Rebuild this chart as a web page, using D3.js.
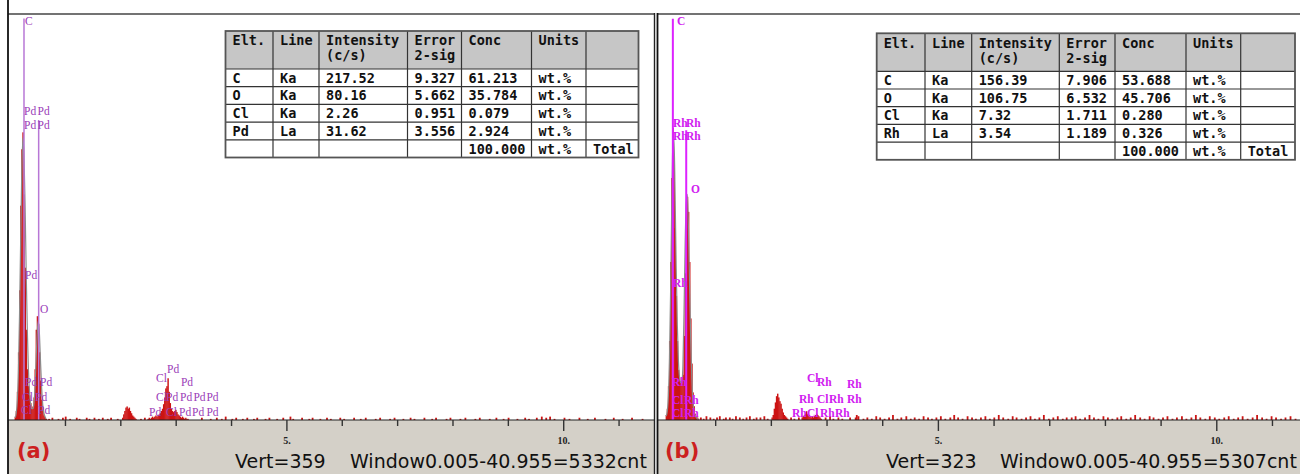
<!DOCTYPE html>
<html>
<head>
<meta charset="utf-8">
<script src="https://cdn.jsdelivr.net/npm/d3@7"></script>
<style>
  html, body { margin: 0; padding: 0; background: #fff; }
  svg { display: block; }
</style>
</head>
<body>
<svg id="chart" width="1300" height="474"></svg>
<script>
// ---------------- Quantification tables ----------------
const tableHeader = [["Elt."], ["Line"], ["Intensity", "(c/s)"], ["Error", "2-sig"], ["Conc"], ["Units"], [""]];
const tableRowsA = [
  ["C",  "Ka", "217.52", "9.327", "61.213", "wt.%", ""],
  ["O",  "Ka", "80.16",  "5.662", "35.784", "wt.%", ""],
  ["Cl", "Ka", "2.26",   "0.951", "0.079",  "wt.%", ""],
  ["Pd", "La", "31.62",  "3.556", "2.924",  "wt.%", ""],
  ["",   "",   "",       "",      "100.000","wt.%", "Total"]
];
const tableRowsB = [
  ["C",  "Ka", "156.39", "7.906", "53.688", "wt.%", ""],
  ["O",  "Ka", "106.75", "6.532", "45.706", "wt.%", ""],
  ["Cl", "Ka", "7.32",   "1.711", "0.280",  "wt.%", ""],
  ["Rh", "La", "3.54",   "1.189", "0.326",  "wt.%", ""],
  ["",   "",   "",       "",      "100.000","wt.%", "Total"]
];

// ---------------- Spectrum (a): Pd sample ----------------
// counts per 0.02 keV channel
const lowStartA = 0.10;
const lowCountsA = [3,8,25,60,115,190,240,255,200,135,80,45,30,22,15,10,12,20,45,80,92,85,60,35,18,8,4,2,1];
const lowFitA    = [2,6,18,45,95,160,220,250,235,190,130,80,45,25,14,10,10,15,30,55,78,88,75,50,28,13,6,3,1];
const bumpStartA = 2.04;
const bumpCountsA = [2,5,8,11,12,10,11,8,6,4,3,2,1];
const clusterStartA = 2.50;
const clusterCountsA = [1,2,1,2,3,2,3,4,3,4,5,6,8,10,14,20,28,30,37,25,15,10,8,7,8,9,7,5,4,3,2,3,2,1,2,1,1];
const noiseA = [
  [0.71,1],[0.77,2],[0.88,1],[0.96,2],[1.01,3],[1.09,1],[1.21,2],[1.26,1],[1.39,2],[1.44,1],
  [1.53,2],[1.61,1],[1.68,2],[1.77,1],[1.83,2],[1.95,1],[2.37,1],[2.44,2],[3.47,2],[3.63,1],
  [3.74,2],[3.83,1],[3.90,3],[4.02,1],[4.09,2],[4.21,1],[4.29,2],[4.41,1],[4.47,2],[4.62,1],
  [4.69,2],[4.83,1],[4.94,2],[5.07,3],[5.12,1],[5.28,2],[5.41,1],[5.47,2],[5.61,1],[5.73,2],
  [5.80,1],[5.97,2],[6.04,1],[6.22,2],[6.34,1],[6.43,2],[6.61,1],[6.69,2],[6.87,1],[6.95,2],
  [7.11,1],[7.24,2],[7.31,1],[7.49,2],[7.63,1],[7.70,2],[7.89,1],[7.96,2],[8.14,1],[8.23,2],
  [8.41,1],[8.49,2],[8.67,1],[8.79,2],[8.92,1],[9.01,2],[9.17,1],[9.31,2],[9.38,1],[9.52,2],
  [9.61,3],[9.69,2],[9.76,3],[9.84,1],[10.02,2],[10.11,1],[10.29,2],[10.44,1],[10.57,2],[10.76,1],
  [10.91,2],[11.07,1],[11.24,2],[11.43,1]
];
const markersA = [[0.26, 356], [0.525, 266]];
const labelsA = [
  ["C", 0.278, 350],
  ["Pd", 0.26, 270], ["Pd", 0.504, 270],
  ["Pd", 0.26, 258], ["Pd", 0.504, 258],
  ["Pd", 0.278, 125],
  ["O", 0.549, 95],
  ["Pd", 0.278, 30], ["Pd", 0.549, 30],
  ["Cl", 0.224, 17], ["Pd", 0.459, 17],
  ["Cl", 0.206, 5], ["Pd", 0.513, 5],
  ["Pd", 2.843, 42],
  ["Cl", 2.644, 34],
  ["Pd", 3.095, 30],
  ["Cl", 2.644, 17], ["Pd", 2.825, 17], ["Pd", 3.078, 17], ["Pd", 3.321, 17], ["Pd", 3.556, 17],
  ["Pd", 2.518, 3.5], ["Cl", 2.825, 3.5], ["Pd", 3.06, 3.5], ["Pd", 3.297, 3.5], ["Pd", 3.556, 3.5]
];
const footerA = ["(a)", "Vert=359", "Window0.005-40.955=5332cnt"];
const vertA = 359;

// ---------------- Spectrum (b): Rh sample ----------------
const lowStartB = 0.12;
const lowCountsB = [4,9,27,63,126,193,233,211,153,99,63,40,34,31,29,36,67,117,162,178,166,126,81,45,22,11,5,3,2,1];
const lowFitB    = [3,7,20,50,104,171,220,225,180,121,76,47,34,30,30,43,85,139,173,180,153,108,65,34,16,7,4,2,1,0];
const bumpStartB = 2.02;
const bumpCountsB = [2,4,9,14,19,21,18,15,13,9,6,4,3,2,1];
const clusterStartB = 2.56;
const clusterCountsB = [2,3,4,5,7,5,4,3,2,3,2,3,4,5,4,3,2,1];
const noiseB = [
  [0.74,2],[0.79,1],[0.84,3],[0.91,2],[0.97,1],[1.03,2],[1.08,3],[1.15,1],[1.19,2],[1.26,2],
  [1.31,1],[1.37,3],[1.44,2],[1.50,1],[1.56,2],[1.62,3],[1.69,1],[1.74,2],[1.81,2],[1.88,3],
  [1.94,1],[2.36,2],[2.42,1],[2.50,2],[2.98,2],[3.06,3],[3.12,1],[3.21,2],[3.28,1],[3.42,2],
  [3.52,2],[3.54,4],[3.57,3],[3.66,1],[3.73,2],[3.81,1],[3.89,3],[3.96,2],[4.04,1],[4.12,2],
  [4.19,4],[4.27,1],[4.34,2],[4.43,3],[4.51,1],[4.58,2],[4.66,1],[4.74,3],[4.82,2],[4.89,1],
  [4.97,2],[5.05,3],[5.13,1],[5.22,2],[5.29,4],[5.36,2],[5.44,1],[5.53,3],[5.61,2],[5.68,1],
  [5.77,2],[5.85,3],[5.93,1],[6.01,2],[6.09,4],[6.17,2],[6.26,1],[6.34,3],[6.41,2],[6.50,1],
  [6.58,2],[6.66,3],[6.74,1],[6.82,2],[6.90,4],[6.99,1],[7.07,2],[7.15,3],[7.24,1],[7.31,2],
  [7.40,2],[7.47,3],[7.55,1],[7.64,2],[7.72,4],[7.80,2],[7.88,1],[7.97,3],[8.05,2],[8.13,1],
  [8.22,2],[8.29,3],[8.38,1],[8.46,2],[8.54,4],[8.63,2],[8.71,1],[8.80,3],[8.87,2],[8.96,1],
  [9.04,2],[9.12,3],[9.21,1],[9.29,2],[9.38,3],[9.46,1],[9.55,2],[9.63,4],[9.71,2],[9.80,1],
  [9.88,3],[9.97,2],[10.05,1],[10.14,2],[10.22,3],[10.31,1],[10.39,2],[10.47,3],[10.56,1],[10.65,2],
  [10.73,4],[10.82,2],[10.90,1],[10.99,3],[11.07,2],[11.16,1],[11.24,2],[11.33,3],[11.42,1]
];
const markersB = [[0.24, 320], [0.48, 231]];
const labelsB = [
  ["C", 0.314, 315],
  ["Rh", 0.242, 234], ["Rh", 0.476, 234],
  ["Rh", 0.242, 223], ["Rh", 0.476, 223],
  ["O", 0.566, 181],
  ["Rh", 0.242, 106],
  ["Rh", 0.224, 27.5],
  ["Cl", 0.224, 13], ["Rh", 0.44, 13],
  ["Cl", 0.224, 2.7], ["Rh", 0.44, 2.7],
  ["Cl", 2.649, 30.6], ["Rh", 2.829, 27], ["Rh", 3.367, 25.2],
  ["Rh", 2.505, 13.5], ["Cl", 2.829, 13.5], ["Rh", 3.044, 13.5], ["Rh", 3.367, 13.5],
  ["Rh", 2.38, 2], ["Cl", 2.649, 2], ["Rh", 2.883, 2], ["Rh", 3.153, 2]
];
const footerB = ["(b)", "Vert=323", "Window0.005-40.955=5307cnt"];
const vertB = 323;

const tickValuesKeV = [1, 2, 3, 4, 5, 6, 7, 8, 9, 10, 11];

// ---------------- drawing ----------------
const svg = d3.select("#chart");
const BASE = 420, TOP = 15, H = 474;
const STEP = 0.02;

function runs(list) {
  const out = [];
  list.forEach(([start, counts]) => counts.forEach((c, i) => out.push({ e: start + i * STEP, c, w: STEP })));
  return out;
}

function drawPanel(cfg) {
  const g = svg.append("g");
  const x = d3.scaleLinear().domain([0, cfg.maxE]).range([cfg.x0, cfg.x1]);
  const y = d3.scaleLinear().domain([0, cfg.vert]).range([BASE, TOP]);

  // status strip under the spectrum
  g.append("rect").attr("x", cfg.left).attr("y", BASE).attr("width", cfg.right - cfg.left)
    .attr("height", H - BASE).attr("fill", "#d4d0c8");

  // measured counts
  const chans = runs(cfg.runs).concat(cfg.noise.map(([e, c]) => ({ e, c, w: 0.026 })));
  g.append("g").selectAll("rect").data(chans).join("rect")
    .attr("x", d => x(d.e - d.w / 2))
    .attr("width", d => x(d.e + d.w / 2) - x(d.e - d.w / 2) + 0.35)
    .attr("y", d => y(d.c))
    .attr("height", d => BASE - y(d.c))
    .attr("fill", "#cc1414");

  // fitted profile
  const fit = cfg.fit[1].map((c, i) => ({ e: cfg.fit[0] + i * STEP, c }));
  g.append("path").datum(fit)
    .attr("d", d3.line().x(d => x(d.e)).y(d => y(d.c)).curve(d3.curveMonotoneX))
    .attr("fill", "none").attr("stroke", "#8c8c8c").attr("stroke-width", 1.2);

  // element line markers
  g.append("g").selectAll("line").data(cfg.markers).join("line")
    .attr("x1", d => x(d[0])).attr("x2", d => x(d[0]))
    .attr("y1", d => y(d[1])).attr("y2", BASE)
    .attr("stroke", cfg.markerColor).attr("stroke-width", cfg.markerWidth);

  // element labels
  g.append("g").selectAll("text").data(cfg.labels).join("text")
    .attr("x", d => x(d[1])).attr("y", d => y(d[2]))
    .attr("fill", cfg.labelColor)
    .attr("font-family", "'Liberation Serif', serif")
    .attr("font-size", 11.5)
    .attr("font-weight", cfg.labelWeight)
    .text(d => d[0]);

  // energy axis
  const axis = d3.axisBottom(x).tickValues(tickValuesKeV).tickSize(6).tickSizeOuter(0)
    .tickFormat(d => d % 5 === 0 ? d + "." : "");
  const ag = g.append("g").attr("transform", `translate(0,${BASE})`).call(axis);
  ag.select(".domain").attr("stroke", "#222").attr("stroke-width", 1.2)
    .attr("d", `M${cfg.left},0H${cfg.right}`);
  ag.selectAll(".tick line").attr("y2", d => d % 5 === 0 ? 11 : 6)
    .attr("stroke", "#333").attr("stroke-width", 1.4);
  ag.selectAll(".tick text").attr("y", 17).attr("dy", "0.71em")
    .attr("fill", "#222").attr("font-family", "'Liberation Serif', serif")
    .attr("font-size", 10).attr("font-weight", "bold");

  // footer texts
  g.append("text").attr("x", cfg.tagX).attr("y", 458).attr("fill", "#cc1f1f")
    .attr("font-family", "'DejaVu Sans', sans-serif").attr("font-weight", "bold")
    .attr("font-size", 21).text(cfg.footer[0]);
  g.append("text").attr("x", cfg.vertX).attr("y", 468).attr("fill", "#111")
    .attr("font-family", "'DejaVu Sans', sans-serif").attr("font-size", 19).text(cfg.footer[1]);
  g.append("text").attr("x", cfg.winX).attr("y", 468).attr("fill", "#111")
    .attr("font-family", "'DejaVu Sans', sans-serif").attr("font-size", 19).text(cfg.footer[2]);

  // frame
  g.append("line").attr("x1", cfg.left).attr("x2", cfg.right).attr("y1", 14).attr("y2", 14)
    .attr("stroke", "#444").attr("stroke-width", 1.5);
  g.append("line").attr("x1", cfg.left).attr("x2", cfg.left).attr("y1", cfg.frameTop).attr("y2", H)
    .attr("stroke", "#111").attr("stroke-width", 1.8);
  if (cfg.rightFrame) {
    g.append("line").attr("x1", cfg.right).attr("x2", cfg.right).attr("y1", 13).attr("y2", H)
      .attr("stroke", "#222").attr("stroke-width", 1.4);
  }

  drawTable(g, cfg.table);
}

function drawTable(g, t) {
  const cols = t.cols, top = t.top;
  const headerH = 38, rowH = 17.7;
  const rowYs = [top, top + headerH];
  t.rows.forEach((r, i) => rowYs.push(top + headerH + rowH * (i + 1)));
  const left = cols[0], right = cols[cols.length - 1], bottom = rowYs[rowYs.length - 1];
  const tg = g.append("g");
  tg.append("rect").attr("x", left).attr("y", top).attr("width", right - left).attr("height", bottom - top)
    .attr("fill", "#fff");
  tg.append("rect").attr("x", left).attr("y", top).attr("width", right - left).attr("height", headerH)
    .attr("fill", "#c6c6c6");
  tg.selectAll("line.h").data(rowYs.slice(1, -1)).join("line")
    .attr("x1", left).attr("x2", right).attr("y1", d => d).attr("y2", d => d)
    .attr("stroke", "#333").attr("stroke-width", 1.2);
  tg.selectAll("line.v").data(cols.slice(1, -1)).join("line")
    .attr("x1", d => d).attr("x2", d => d).attr("y1", top).attr("y2", bottom)
    .attr("stroke", "#333").attr("stroke-width", 1.2);
  tg.append("rect").attr("x", left).attr("y", top).attr("width", right - left).attr("height", bottom - top)
    .attr("fill", "none").attr("stroke", "#555").attr("stroke-width", 1.8);

  const font = (sel) => sel.attr("font-family", "'DejaVu Sans Mono', monospace").attr("font-size", 13.5)
    .attr("font-weight", "bold").attr("fill", "#111");
  tableHeader.forEach((lines, ci) => {
    lines.forEach((s, li) => {
      tg.append("text").attr("x", cols[ci] + 7).attr("y", top + 9.5 + li * 15).attr("dy", "0.36em")
        .call(font).text(s);
    });
  });
  t.rows.forEach((r, ri) => {
    r.forEach((s, ci) => {
      if (!s) return;
      tg.append("text").attr("x", cols[ci] + 7).attr("y", rowYs[ri + 1] + rowH / 2).attr("dy", "0.36em")
        .call(font).text(s);
    });
  });
}

drawPanel({
  maxE: 11.64, x0: 9.6, x1: 654, left: 8, right: 654.5, frameTop: 0, rightFrame: true,
  vert: vertA,
  runs: [[lowStartA, lowCountsA], [bumpStartA, bumpCountsA], [clusterStartA, clusterCountsA]],
  fit: [lowStartA, lowFitA],
  noise: noiseA,
  markers: markersA, labels: labelsA,
  markerColor: "#b877d6", markerWidth: 1.5, labelColor: "#9a3cb8", labelWeight: "normal",
  footer: footerA, tagX: 17, vertX: 235, winX: 350,
  table: { cols: [225.5, 273, 319, 407.5, 461.5, 531.5, 586, 638.5], top: 31, rows: tableRowsA }
});

drawPanel({
  maxE: 11.5, x0: 659.5, x1: 1299.8, left: 657.5, right: 1300, frameTop: 13, rightFrame: false,
  vert: vertB,
  runs: [[lowStartB, lowCountsB], [bumpStartB, bumpCountsB], [clusterStartB, clusterCountsB]],
  fit: [lowStartB, lowFitB],
  noise: noiseB,
  markers: markersB, labels: labelsB,
  markerColor: "#dd22ff", markerWidth: 2, labelColor: "#d020f0", labelWeight: "bold",
  footer: footerB, tagX: 665, vertX: 886, winX: 1000,
  table: { cols: [876.7, 925, 971.7, 1059.3, 1115, 1186, 1240.7, 1295], top: 33.3, rows: tableRowsB }
});
</script>
</body>
</html>
